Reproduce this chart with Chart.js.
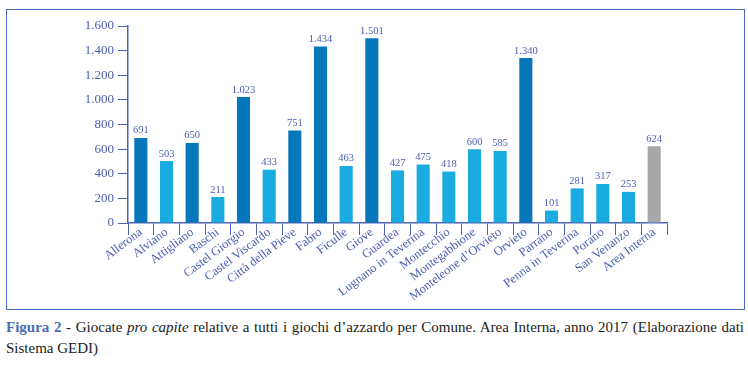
<!DOCTYPE html>
<html>
<head>
<meta charset="utf-8">
<script src="https://cdn.jsdelivr.net/npm/chart.js@4.4.1/dist/chart.umd.min.js"></script>
<style>
  body { margin: 0; background: #fff; }
  #wrap { position: relative; width: 748px; height: 373px; }
  #chart { position: absolute; left: 0; top: 0; }
  #frame {
    position: absolute; left: 6px; top: 9px; width: 739px; height: 301px;
    box-sizing: border-box; border: 1px solid #4a6cc4;
  }
  #caption {
    position: absolute; left: 6px; top: 317px; width: 738px;
    font-family: "Liberation Serif", serif; font-size: 15px; line-height: 21px;
    color: #222; text-align: justify;
  }
  #caption b { color: #4a6cb5; }
</style>
</head>
<body>
<div id="wrap">
  <div id="frame"></div>
  <canvas id="chart" width="748" height="310"></canvas>
  <div id="caption"><b>Figura 2</b> - Giocate <i>pro capite</i> relative a tutti i giochi d’azzardo per Comune. Area Interna, anno 2017 (Elaborazione dati Sistema GEDI)</div>
</div>
<script>
const comuni = ['Allerona', 'Alviano', 'Attigliano', 'Baschi', 'Castel Giorgio', 'Castel Viscardo',
  'Città della Pieve', 'Fabro', 'Ficulle', 'Giove', 'Guardea', 'Lugnano in Teverina', 'Montecchio',
  'Montegabbione', 'Monteleone d’Orvieto', 'Orvieto', 'Parrano', 'Penna in Teverina', 'Porano',
  'San Venanzo', 'Area Interna'];
const giocate = [691, 503, 650, 211, 1023, 433, 751, 1434, 463, 1501, 427, 475, 418, 600, 585, 1340,
  101, 281, 317, 253, 624];
const yTicks = [0, 200, 400, 600, 800, 1000, 1200, 1400, 1600];

const textColor = '#4b5fb3';
const axisColor = '#4d62b8';
const dark = '#0677bb';
const light = '#1aace1';
const grey = '#a6a8a9';

const media = giocate[giocate.length - 1];
const barColors = giocate.map((v, i) =>
  i === giocate.length - 1 ? grey : (v > media ? dark : light));

const fmt = v => String(v).replace(/\B(?=(\d{3})+(?!\d))/g, '.');

const valueLabels = {
  id: 'valueLabels',
  afterDatasetsDraw(chart) {
    const ctx = chart.ctx;
    const meta = chart.getDatasetMeta(0);
    ctx.save();
    ctx.font = '10.5px "Liberation Serif", serif';
    ctx.fillStyle = textColor;
    ctx.textAlign = 'center';
    ctx.textBaseline = 'bottom';
    meta.data.forEach((bar, i) => {
      ctx.fillText(fmt(chart.data.datasets[0].data[i]), bar.x, bar.y - 2);
    });
    ctx.restore();
  }
};

new Chart(document.getElementById('chart').getContext('2d'), {
  type: 'bar',
  data: {
    labels: comuni,
    datasets: [{
      data: giocate,
      backgroundColor: barColors,
      borderWidth: 0,
      barPercentage: 0.6,
      categoryPercentage: 0.85
    }]
  },
  options: {
    responsive: false,
    animation: false,
    devicePixelRatio: 1,
    layout: { padding: { top: 26, right: 81, left: 0, bottom: 0 } },
    plugins: {
      legend: { display: false },
      tooltip: { enabled: false }
    },
    scales: {
      x: {
        afterFit: s => { s.height = 87; },
        grid: { drawOnChartArea: false, tickLength: 12, color: axisColor, offset: true },
        border: { color: axisColor, width: 1.5 },
        ticks: {
          color: textColor,
          minRotation: 37,
          maxRotation: 37,
          padding: -10,
          autoSkip: false,
          font: { family: '"Liberation Serif", serif', size: 12.5 }
        }
      },
      y: {
        min: 0,
        max: 1600,
        afterFit: s => { s.width = 128; },
        afterBuildTicks: s => { s.ticks = yTicks.map(v => ({ value: v })); },
        grid: { drawOnChartArea: false, tickLength: 10, color: axisColor },
        border: { color: axisColor, width: 1.5 },
        ticks: {
          color: textColor,
          padding: 4,
          font: { family: '"Liberation Serif", serif', size: 13 },
          callback: v => fmt(v)
        }
      }
    }
  },
  plugins: [valueLabels]
});
</script>
</body>
</html>
